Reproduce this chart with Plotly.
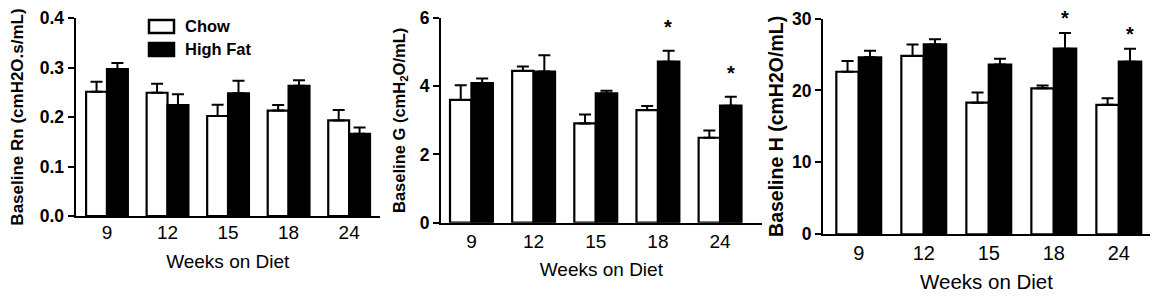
import plotly.graph_objects as go

weeks = ["9", "12", "15", "18", "24"]

rn_chow = [0.251, 0.249, 0.202, 0.213, 0.193]
rn_chow_err = [0.020, 0.018, 0.023, 0.011, 0.021]
rn_hf = [0.297, 0.224, 0.248, 0.263, 0.166]
rn_hf_err = [0.012, 0.022, 0.025, 0.011, 0.013]

g_chow = [3.60, 4.45, 2.91, 3.30, 2.49]
g_chow_err = [0.43, 0.13, 0.26, 0.12, 0.21]
g_hf = [4.09, 4.43, 3.79, 4.72, 3.43]
g_hf_err = [0.14, 0.48, 0.08, 0.32, 0.26]

h_chow = [22.6, 24.8, 18.3, 20.3, 18.0]
h_chow_err = [1.5, 1.6, 1.4, 0.4, 0.9]
h_hf = [24.6, 26.4, 23.6, 25.8, 24.0]
h_hf_err = [0.9, 0.7, 0.8, 2.2, 1.8]

g_sig = [False, False, False, True, True]
h_sig = [False, False, False, True, True]

FONT = "Arial, Liberation Sans, sans-serif"
# the page body adds an 8px margin, so the figure is drawn 8px in from the corner
W, H = 1150, 289

panels = [
    dict(chow=rn_chow, chow_err=rn_chow_err, hf=rn_hf, hf_err=rn_hf_err, sig=None,
         title="Baseline Rn (cmH2O.s/mL)", yrange=[0, 0.4], dtick=0.1, fmt=".1f",
         xpx=(67.5, 372), ypx=(10, 208), xr=[-0.52, 4.51], ytf=17, ystand=16,
         xtf=19, xttf=19, xstand=13, xls=-2, star_shift=24),
    dict(chow=g_chow, chow_err=g_chow_err, hf=g_hf, hf_err=g_hf_err, sig=g_sig,
         title="Baseline G (cmH<sub>2</sub>O/mL)", yrange=[0, 6], dtick=2, fmt="d",
         xpx=(433, 753.7), ypx=(10, 214.7), xr=[-0.49, 4.67], ytf=16.5, ystand=10,
         xtf=19, xttf=19, xstand=12, xls=0, star_shift=24),
    dict(chow=h_chow, chow_err=h_chow_err, hf=h_hf, hf_err=h_hf_err, sig=h_sig,
         title="Baseline H (cmH2O/mL)", yrange=[0, 30], dtick=10, fmt="d",
         xpx=(815, 1142), ypx=(10.5, 226.3), xr=[-0.55, 4.48], ytf=19.5, ystand=3,
         xtf=20, xttf=20.5, xstand=11, xls=0, star_shift=15),
]

fig = go.Figure()
xs = list(range(len(weeks)))
annotations = []
for i, p in enumerate(panels):
    n = "" if i == 0 else str(i + 1)
    xa, ya = "x" + n, "y" + n
    fig.add_trace(go.Bar(
        x=xs, y=p["chow"], name="Chow", xaxis=xa, yaxis=ya, offsetgroup="c",
        marker=dict(color="white", line=dict(color="black", width=2.2)),
        error_y=dict(type="data", array=p["chow_err"], arrayminus=[0] * 5, symmetric=False,
                     color="black", thickness=2, width=6),
        showlegend=False))
    fig.add_trace(go.Bar(
        x=xs, y=p["hf"], name="High Fat", xaxis=xa, yaxis=ya, offsetgroup="h",
        marker=dict(color="black", line=dict(color="black", width=2.2)),
        error_y=dict(type="data", array=p["hf_err"], arrayminus=[0] * 5, symmetric=False,
                     color="black", thickness=2, width=6),
        showlegend=False))
    x0, x1 = p["xpx"]
    yt, yb = p["ypx"]
    fig.layout["xaxis" + n] = dict(
        domain=[x0 / W, x1 / W], anchor=ya, range=p["xr"], automargin=False,
        tickvals=xs, ticktext=weeks, showline=True, linecolor="black", linewidth=2,
        ticks="", showgrid=False, zeroline=False, ticklabelstandoff=p["xls"],
        ticklabeloverflow="allow",
        tickfont=dict(family=FONT, size=p["xtf"], color="black"),
        title=dict(text="Weeks on Diet", standoff=p["xstand"],
                   font=dict(family=FONT, size=p["xttf"], color="black")))
    fig.layout["yaxis" + n] = dict(
        domain=[1 - yb / H, 1 - yt / H], anchor=xa, range=p["yrange"], dtick=p["dtick"],
        tickformat=p["fmt"], showline=True, linecolor="black", linewidth=2, automargin=False,
        ticks="outside", ticklen=6, tickwidth=2, tickcolor="black",
        showgrid=False, zeroline=False, ticklabelstandoff=0, ticklabeloverflow="allow",
        tickfont=dict(family=FONT, size=17.5, color="black", weight="bold"),
        title=dict(text=p["title"], standoff=p["ystand"],
                   font=dict(family=FONT, size=p["ytf"], color="black", weight="bold")))
    if p["sig"]:
        for j, s in enumerate(p["sig"]):
            if s:
                annotations.append(dict(
                    x=xs[j] + 0.17, y=p["hf"][j] + p["hf_err"][j], xref=xa, yref=ya,
                    text="*", showarrow=False, yshift=p["star_shift"], yanchor="middle",
                    font=dict(family=FONT, size=20, color="black", weight="bold")))

# legend key for the first panel
legend_items = [("Chow", "white", 12, 25), ("High Fat", "black", 35, 48)]
shapes = []
for label, color, ty, by in legend_items:
    shapes.append(dict(type="rect", xref="paper", yref="paper",
                       x0=141 / W, x1=166 / W, y0=1 - by / H, y1=1 - ty / H,
                       fillcolor=color, line=dict(color="black", width=2.5)))
    annotations.append(dict(x=175 / W, y=1 - ((ty + by) / 2) / H, xref="paper", yref="paper",
                            text=label, showarrow=False, xanchor="left", yanchor="middle",
                            font=dict(family=FONT, size=16.5, color="black", weight="bold")))

fig.update_layout(
    width=W, height=H, autosize=False,
    margin=dict(l=0, r=0, t=0, b=0),
    plot_bgcolor="white", paper_bgcolor="white",
    barmode="group", bargap=0.31, bargroupgap=0,
    shapes=shapes, annotations=annotations,
)

fig.write_html("out.html")
